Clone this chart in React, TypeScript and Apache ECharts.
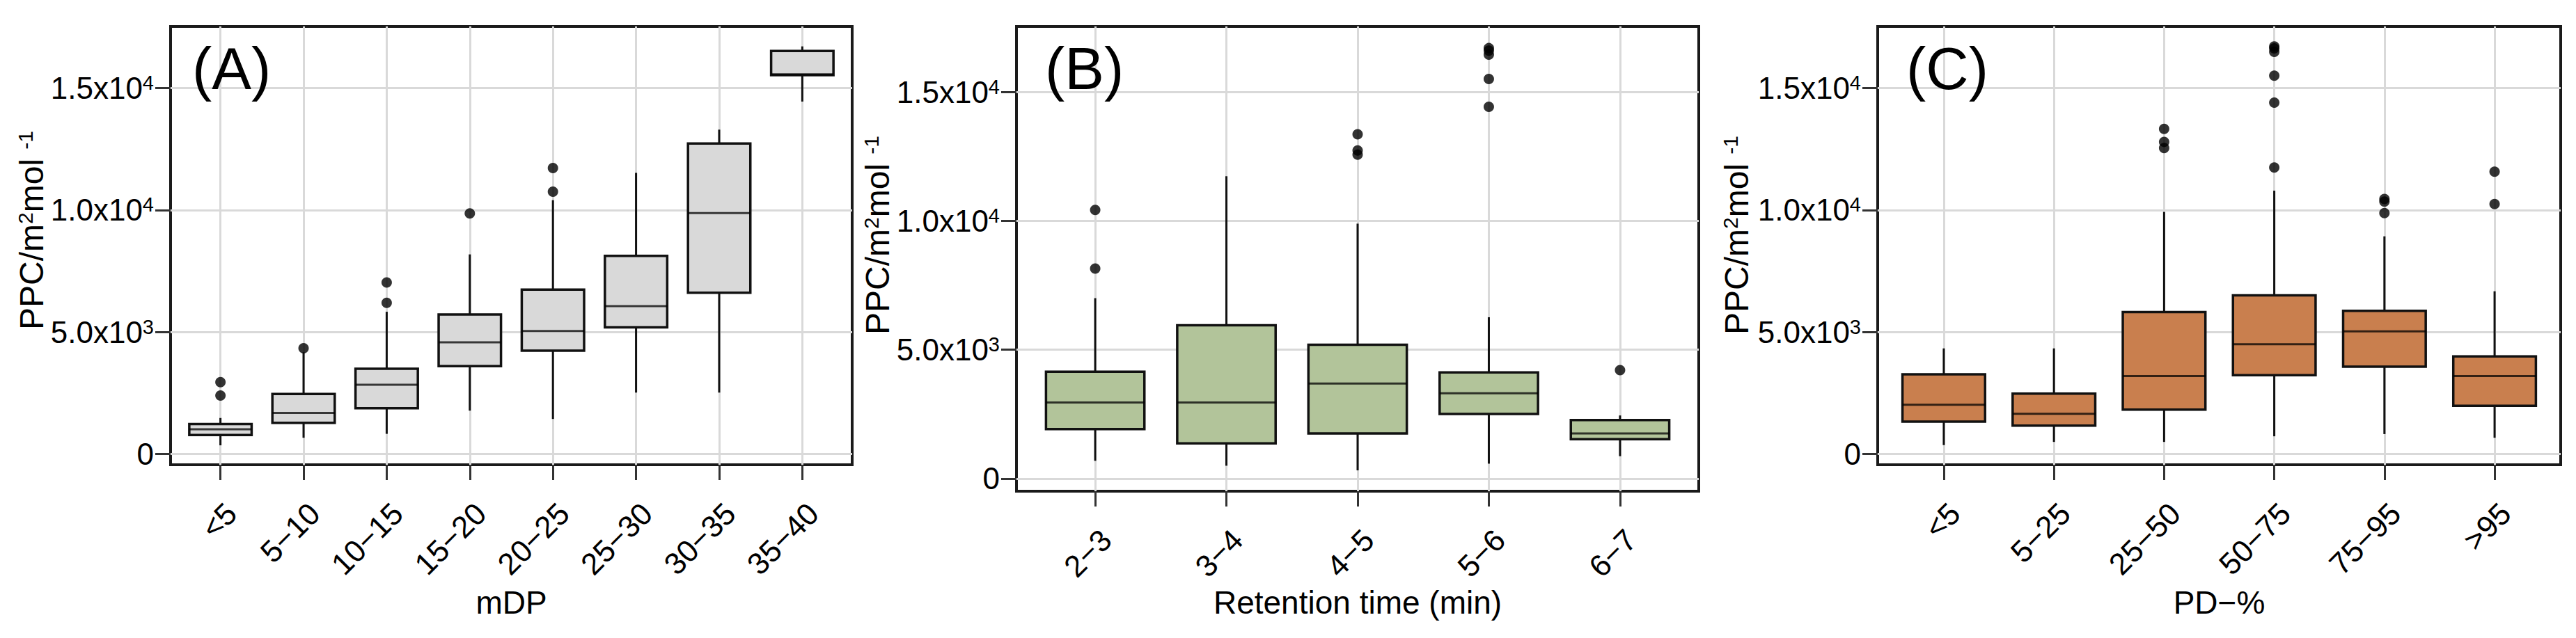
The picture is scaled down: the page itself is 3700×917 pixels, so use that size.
import React, { useEffect, useRef } from "react";
import * as echarts from "echarts";

// ---------- data ----------
const catsA = ["<5", "5−10", "10−15", "15−20", "20−25", "25−30", "30−35", "35−40"];
// [lower whisker, Q1, median, Q3, upper whisker]
const statsA = [
  [360, 780, 1020, 1230, 1480],
  [670, 1280, 1690, 2460, 4170],
  [830, 1880, 2840, 3500, 5830],
  [1780, 3600, 4580, 5720, 8180],
  [1440, 4240, 5040, 6740, 10400],
  [2520, 5190, 6060, 8120, 11520],
  [2520, 6610, 9870, 12720, 13290],
  [14440, 15520, 15560, 16510, 16700],
];
// [category index, value]
const outliersA = [
  [0, 2400], [0, 2950], [1, 4340], [2, 6200], [2, 7030], [3, 9860], [4, 10750], [4, 11720],
];

const catsB = ["2−3", "3−4", "4−5", "5−6", "6−7"];
const statsB = [
  [690, 1920, 2950, 4150, 7000],
  [500, 1370, 2950, 5950, 11730],
  [320, 1750, 3690, 5190, 9890],
  [580, 2510, 3310, 4120, 6260],
  [870, 1530, 1750, 2270, 2450],
];
const outliersB = [
  [0, 8150], [0, 10420], [2, 12570], [2, 12730], [2, 13360],
  [3, 14420], [3, 15500], [3, 16450], [3, 16600], [3, 16700], [4, 4210],
];

const catsC = ["<5", "5−25", "25−50", "50−75", "75−95", ">95"];
const statsC = [
  [370, 1330, 2020, 3270, 4330],
  [500, 1170, 1650, 2480, 4330],
  [500, 1820, 3200, 5820, 9920],
  [730, 3230, 4500, 6500, 10790],
  [820, 3580, 5030, 5870, 8920],
  [670, 1980, 3200, 4000, 6670],
];
const outliersC = [
  [2, 12540], [2, 12790], [2, 13320],
  [3, 11740], [3, 14400], [3, 15500], [3, 16480], [3, 16620], [3, 16700],
  [4, 9870], [4, 10340], [4, 10450], [5, 10240], [5, 11570],
];

const yTickValues = [0, 5000, 10000, 15000];
const yTickMantissa = ["0", "5.0x10", "1.0x10", "1.5x10"];
const yTickExponent = ["", "3", "4", "4"];

const panelLabels = ["(A)", "(B)", "(C)"];
const xTitles = ["mDP", "Retention time (min)", "PD−%"];

// ---------- style ----------
const FONT = "'Liberation Sans', Arial, Helvetica, sans-serif";
const BOX_W = 0.75;

type Panel = {
  cats: string[];
  stats: number[][];
  outs: number[][];
  fill: string;
  grid: { left: number; top: number; width: number; height: number };
  yMin: number;
  yMax: number;
};

const panels: Panel[] = [
  { cats: catsA, stats: statsA, outs: outliersA, fill: "#d9d9d9",
    grid: { left: 245, top: 38, width: 979, height: 630 }, yMin: -436, yMax: 17517 },
  { cats: catsB, stats: statsB, outs: outliersB, fill: "#b2c49a",
    grid: { left: 1460, top: 38, width: 980, height: 668 }, yMin: -488, yMax: 17540 },
  { cats: catsC, stats: statsC, outs: outliersC, fill: "#c97f4e",
    grid: { left: 2697, top: 38, width: 981, height: 630 }, yMin: -436, yMax: 17517 },
];

function yLabel(v: number): string {
  const i = yTickValues.indexOf(Math.round(v));
  if (i < 0) return "";
  return yTickExponent[i] ? `{m|${yTickMantissa[i]}}{s|${yTickExponent[i]}}` : `{m|${yTickMantissa[i]}}`;
}

function buildOption() {
  const grids: any[] = [];
  const xAxes: any[] = [];
  const yAxes: any[] = [];
  const series: any[] = [];
  const graphics: any[] = [];

  panels.forEach((p, k) => {
    grids.push({
      ...p.grid,
      show: true,
      borderColor: "#1a1a1a",
      borderWidth: 4,
      backgroundColor: "transparent",
      containLabel: false,
    });
    const idx = p.cats.map((_, i) => i);
    xAxes.push({
      type: "value",
      gridIndex: k,
      position: "bottom",
      min: -0.6,
      max: p.cats.length - 1 + 0.6,
      axisLine: { show: false, onZero: false },
      axisTick: { show: true, customValues: idx, length: 22, lineStyle: { color: "#333", width: 3 } },
      axisLabel: {
        show: true,
        customValues: idx,
        formatter: (v: number) => p.cats[Math.round(v)] ?? "",
        rotate: 45,
        align: "right",
        verticalAlign: "top",
        margin: 47,
        fontSize: 44,
        fontFamily: FONT,
        color: "#000",
      },
      splitLine: { show: true, lineStyle: { color: "#d9d9d9", width: 3 } },
    });
    yAxes.push({
      type: "value",
      gridIndex: k,
      position: "left",
      min: p.yMin,
      max: p.yMax,
      axisLine: { show: false, onZero: false },
      axisTick: { show: true, customValues: yTickValues, length: 22, lineStyle: { color: "#333", width: 3 } },
      axisLabel: {
        show: true,
        customValues: yTickValues,
        formatter: yLabel,
        margin: 24,
        color: "#000",
        rich: {
          m: { fontSize: 44, fontFamily: FONT, color: "#000", lineHeight: 44 },
          s: { fontSize: 29, fontFamily: FONT, color: "#000", verticalAlign: "top", lineHeight: 22 },
        },
      },
      splitLine: { show: true, lineStyle: { color: "#d9d9d9", width: 3 } },
    });

    const fill = p.fill;
    series.push({
      type: "custom",
      xAxisIndex: k,
      yAxisIndex: k,
      data: p.stats.map((s, i) => [i, ...s]),
      encode: { x: 0, y: [1, 2, 3, 4, 5] },
      renderItem: (_params: any, api: any) => {
        const x = api.value(0);
        const lo = api.coord([x, api.value(1)]);
        const q1 = api.coord([x, api.value(2)]);
        const md = api.coord([x, api.value(3)]);
        const q3 = api.coord([x, api.value(4)]);
        const hi = api.coord([x, api.value(5)]);
        const w = api.size([BOX_W, 0])[0];
        const cx = lo[0];
        const whisker = { stroke: "#111", lineWidth: 3 };
        return {
          type: "group",
          children: [
            { type: "line", shape: { x1: cx, y1: hi[1], x2: cx, y2: q3[1] }, style: whisker },
            { type: "line", shape: { x1: cx, y1: q1[1], x2: cx, y2: lo[1] }, style: whisker },
            {
              type: "rect",
              shape: { x: cx - w / 2, y: q3[1], width: w, height: q1[1] - q3[1] },
              style: { fill, stroke: "#111", lineWidth: 3.5 },
            },
            {
              type: "line",
              shape: { x1: cx - w / 2, y1: md[1], x2: cx + w / 2, y2: md[1] },
              style: { stroke: "rgba(0,0,0,0.75)", lineWidth: 3 },
            },
          ],
        };
      },
    });
    series.push({
      type: "scatter",
      xAxisIndex: k,
      yAxisIndex: k,
      data: p.outs,
      symbol: "circle",
      symbolSize: 15,
      itemStyle: { color: "#000" },
      z: 5,
    });

    const g = p.grid;
    // panel label
    graphics.push({
      type: "text",
      x: g.left + (k === 0 ? 31 : 41),
      y: 98,
      style: { text: panelLabels[k], font: `85px ${FONT}`, fill: "#000", align: "left", verticalAlign: "middle" },
      z: 10,
    });
    // x title
    graphics.push({
      type: "text",
      x: g.left + g.width / 2,
      y: 866,
      style: { text: xTitles[k], font: `46px ${FONT}`, fill: "#000", align: "center", verticalAlign: "middle" },
      z: 10,
    });
  });

  // y titles (rotated)
  const yTitlePos = [
    { x: 45, y: 474 },
    { x: 1260, y: 481 },
    { x: 2494, y: 481 },
  ];
  yTitlePos.forEach((pos) => {
    graphics.push({
      type: "text",
      x: pos.x,
      y: pos.y,
      rotation: Math.PI / 2,
      style: {
        text: "{t|PPC/m}{s|2}{t|mol }{s|-1}",
        align: "left",
        verticalAlign: "middle",
        rich: {
          t: { fontSize: 48, fontFamily: FONT, fill: "#000", color: "#000", lineHeight: 48 },
          s: { fontSize: 30, fontFamily: FONT, fill: "#000", color: "#000", verticalAlign: "top", lineHeight: 24 },
        },
      },
      z: 10,
    });
  });

  return {
    animation: false,
    backgroundColor: "#ffffff",
    grid: grids,
    xAxis: xAxes,
    yAxis: yAxes,
    series,
    graphic: graphics,
  };
}

export default function App() {
  const ref = useRef<HTMLDivElement>(null);
  useEffect(() => {
    if (!ref.current) return;
    const chart = echarts.init(ref.current, null, { renderer: "svg" });
    chart.setOption(buildOption() as any);
    return () => chart.dispose();
  }, []);
  return (
    <div
      ref={ref}
      style={{ position: "absolute", left: 0, top: 0, width: 3700, height: 917, background: "#fff" }}
    />
  );
}
